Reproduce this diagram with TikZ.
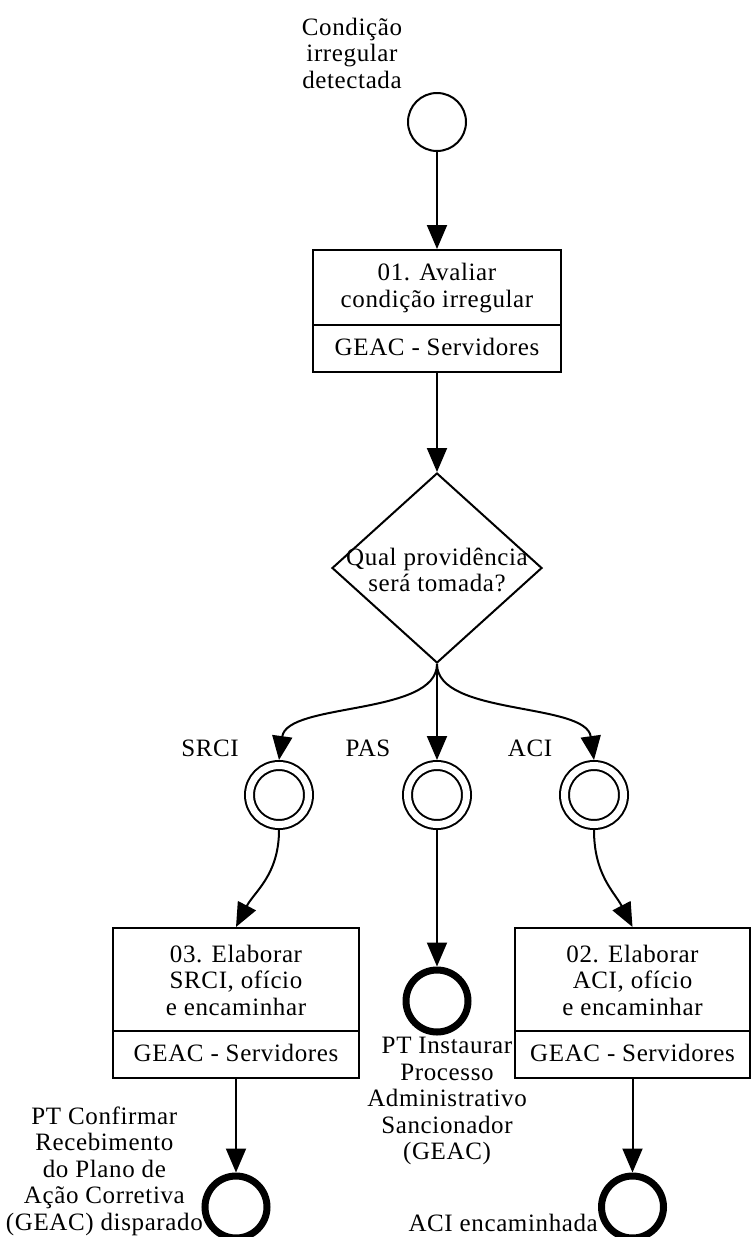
\documentclass[tikz,border=0pt]{standalone}
\usepackage{fontspec}
\setmainfont[LetterSpace=2.5]{Liberation Serif}
\usetikzlibrary{arrows.meta,shapes.geometric}
\begin{document}
\begin{tikzpicture}[x=1pt,y=-1pt,
  every node/.style={font=\fontsize{25}{26.5}\selectfont, align=center, inner sep=0pt},
  flow/.style={line width=2pt, -{Triangle[length=24pt,width=20pt]}},
  taskbox/.style={draw, line width=2pt, fill=white},
  divider/.style={line width=2pt},
  startev/.style={draw, circle, line width=2pt, minimum size=58pt},
  midev/.style={draw, circle, line width=2pt, double, double distance=7pt, minimum size=59pt, outer sep=5.5pt},
  endev/.style={draw, circle, line width=7pt, minimum size=62pt},
  gateway/.style={draw, diamond, line width=2pt, minimum width=210pt, minimum height=190pt},
]
\useasboundingbox (0,0) rectangle (752,1237);

% start event
\node[startev] (s) at (437,122) {};
\node (sl) at (352,53) {Condição\\irregular\\detectada};

% task 01
\node[taskbox, minimum width=248pt, minimum height=122pt] (t1) at (437,311) {};
\draw[divider] (t1.west |- 0,325) -- (t1.east |- 0,325);
\node (t1a) at (437,288) {01. Avaliar\\condição irregular};
\node (t1b) at (437,347) {GEAC - Servidores};

% gateway
\node[gateway] (g) at (437,568) {};
\node (gl) at (437,570) {Qual providência\\será tomada?};

% intermediate events
\node[midev] (e1) at (279,795) {};
\node[midev] (e2) at (437,795) {};
\node[midev] (e3) at (594,795) {};
\node (e1l) at (210,748) {SRCI};
\node (e2l) at (368,748) {PAS};
\node (e3l) at (530,748) {ACI};

% task 03
\node[taskbox, minimum width=246pt, minimum height=150pt] (t3) at (236,1003) {};
\draw[divider] (t3.west |- 0,1031) -- (t3.east |- 0,1031);
\node (t3a) at (236,980) {03. Elaborar\\SRCI, ofício\\e encaminhar};
\node (t3b) at (236,1053) {GEAC - Servidores};

% task 02
\node[taskbox, minimum width=235pt, minimum height=150pt] (t2) at (632.5,1003) {};
\draw[divider] (t2.west |- 0,1031) -- (t2.east |- 0,1031);
\node (t2a) at (632.5,980) {02. Elaborar\\ACI, ofício\\e encaminhar};
\node (t2b) at (632.5,1053) {GEAC - Servidores};

% end events
\node[endev] (x2) at (437,1001) {};
\node[endev] (x1) at (236,1207) {};
\node[endev] (x3) at (632.5,1207) {};
\node (x2l) at (447,1101) {PT Instaurar\\Processo\\Administrativo\\Sancionador\\(GEAC)};
\node[anchor=east] (x1l) at (203,1171) {PT Confirmar\\Recebimento\\do Plano de\\Ação Corretiva\\(GEAC) disparado};
\node[anchor=east] (x3l) at (598,1223) {ACI encaminhada};

% sequence flows
\draw[flow] (s.south) -- (t1.north);
\draw[flow] (t1.south) -- (g.north);
\draw[flow] (g.south) .. controls +(0,52) and +(8,-58) .. (e1.north);
\draw[flow] (g.south) -- (e2.north);
\draw[flow] (g.south) .. controls +(0,52) and +(-8,-58) .. (e3.north);
\draw[flow] (e1.south) .. controls +(0,45) and +(18,-35) .. (t3.north);
\draw[flow] (e2.south) -- (x2.north);
\draw[flow] (e3.south) .. controls +(0,45) and +(-18,-35) .. (t2.north);
\draw[flow] (t3.south) -- (x1.north);
\draw[flow] (t2.south) -- (x3.north);
\end{tikzpicture}
\end{document}
